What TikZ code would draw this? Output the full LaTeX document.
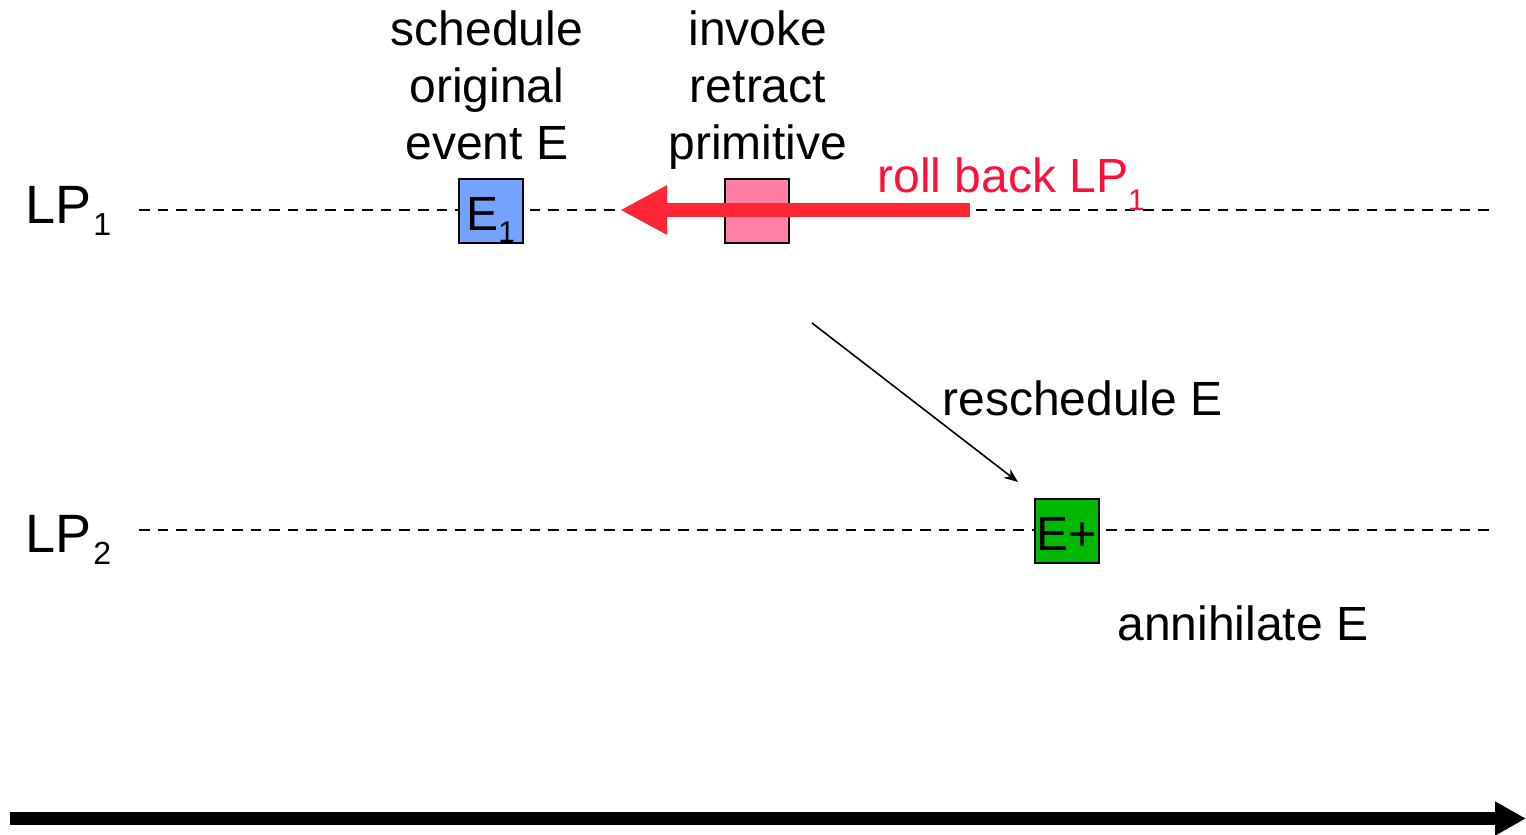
\documentclass[tikz,border=0pt]{standalone}
\usepackage{fontspec}
\setmainfont{Liberation Sans}
\usetikzlibrary{arrows.meta}
\definecolor{boxblue}{RGB}{116,162,255}
\definecolor{boxpink}{RGB}{255,128,164}
\definecolor{boxgreen}{RGB}{0,184,0}
\definecolor{arrowred}{RGB}{255,38,53}
\definecolor{textred}{RGB}{255,16,56}
\newcommand{\subdown}[3][15pt]{\raisebox{-#2}{\fontsize{#1}{#1}\selectfont #3}}
\begin{document}
\begin{tikzpicture}[x=0.5pt,y=-0.5pt,
  lbl/.style={font=\fontsize{24pt}{28.5pt}\selectfont, inner sep=0pt},
  biglbl/.style={font=\fontsize{27pt}{30pt}\selectfont, inner sep=0pt},
  evbox/.style={draw=black, line width=1pt, minimum width=32pt, minimum height=32pt, inner sep=0pt},
  timeline/.style={dash pattern=on 5.3pt off 4pt, line width=1.3pt},
]
\useasboundingbox (0,0) rectangle (1526,835);

% timelines
\coordinate (l1s) at (139,210);
\coordinate (l1e) at (1494,210);
\coordinate (l2s) at (139,530);
\coordinate (l2e) at (1494,530);
\draw[timeline] (l1s) -- (l1e);
\draw[timeline] (l2s) -- (l2e);

% process labels
\node[biglbl, anchor=base west] (lp1) at (25,223) {LP\hspace{1pt}\subdown[16pt]{6pt}{1}};
\node[biglbl, anchor=base west] (lp2) at (25,552) {LP\hspace{1pt}\subdown[16pt]{6pt}{2}};

% event boxes
\node[evbox, fill=boxblue] (e1) at (490.5,210.5) {};
\node[lbl, anchor=base west] (e1t) at (466,230) {E\subdown{6pt}{1}};
\node[evbox, fill=boxpink] (retract) at (756.5,210.5) {};
\node[evbox, fill=boxgreen] (eplus) at (1066.5,530.5) {};
\node[lbl, anchor=base] (eplust) at (1066.5,550) {E+};

% annotations
\node[lbl, anchor=north, align=center] (sched) at (487,10) {schedule\\original\\event E};
\node[lbl, anchor=north, align=center] (invoke) at (758,10) {invoke\\retract\\primitive};
\node[lbl, anchor=base west] (resched) at (942,415) {reschedule E};
\node[lbl, anchor=base west] (annih) at (1117,640) {annihilate E};

% roll back arrow
\coordinate (rbs) at (970,210);
\coordinate (rbe) at (620,210);
\draw[arrowred, line width=7pt, -{Triangle[length=23.5pt,width=23pt]}] (rbs) -- (rbe);
\node[lbl, text=textred, anchor=base west] (rb) at (877,192) {roll back LP\subdown{9pt}{1}};

% reschedule arrow
\coordinate (rs) at (812,323);
\coordinate (re) at (1018,482);
\draw[line width=0.8pt, -{Stealth[length=7pt,width=5.5pt]}] (rs) -- (re);

% time axis
\coordinate (ts) at (10,818.5);
\coordinate (te) at (1526,818.5);
\draw[line width=6.5pt, -{Triangle[length=15.5pt,width=16pt]}] (ts) -- (te);
\end{tikzpicture}
\end{document}
